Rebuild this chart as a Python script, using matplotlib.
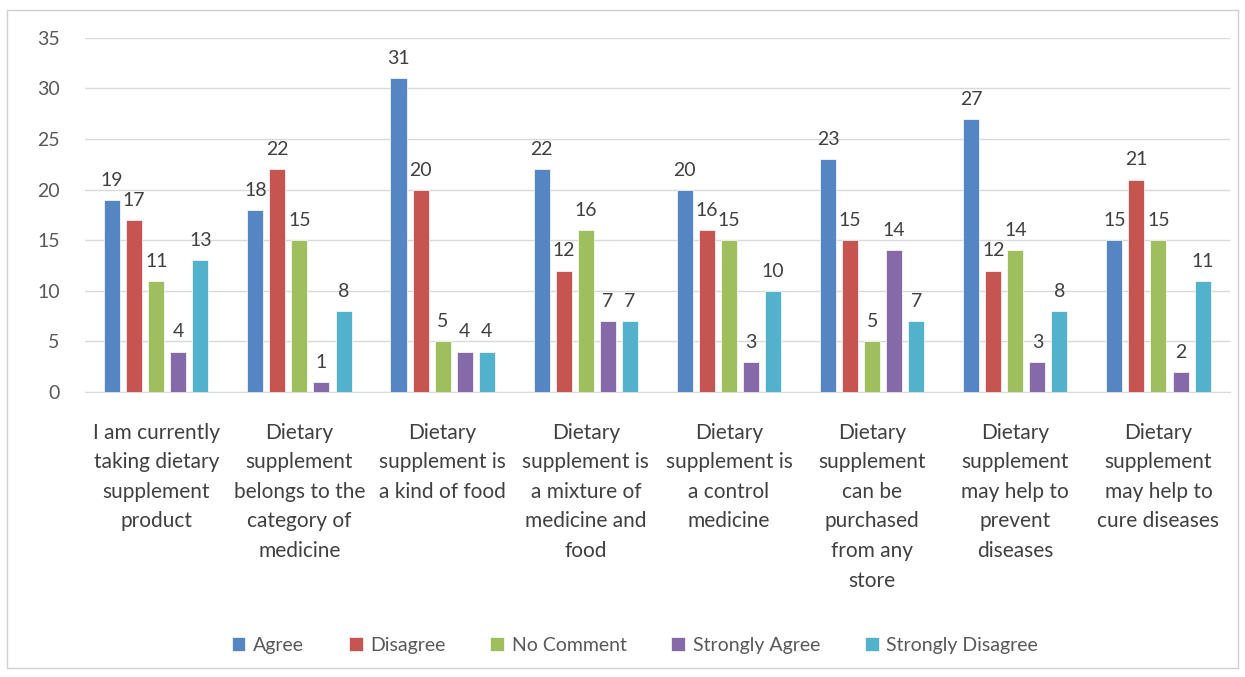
import matplotlib
matplotlib.use("Agg")
import matplotlib.pyplot as plt
import numpy as np
from matplotlib.patches import Rectangle

categories = [
    "I am currently\ntaking dietary\nsupplement\nproduct",
    "Dietary\nsupplement\nbelongs to the\ncategory of\nmedicine",
    "Dietary\nsupplement is\na kind of food",
    "Dietary\nsupplement is\na mixture of\nmedicine and\nfood",
    "Dietary\nsupplement is\na control\nmedicine",
    "Dietary\nsupplement\ncan be\npurchased\nfrom any\nstore",
    "Dietary\nsupplement\nmay help to\nprevent\ndiseases",
    "Dietary\nsupplement\nmay help to\ncure diseases",
]
series_names = ["Agree", "Disagree", "No Comment", "Strongly Agree", "Strongly Disagree"]
agree = [19, 18, 31, 22, 20, 23, 27, 15]
disagree = [17, 22, 20, 12, 16, 15, 12, 21]
no_comment = [11, 15, 5, 16, 15, 5, 14, 15]
strongly_agree = [4, 1, 4, 7, 3, 14, 3, 2]
strongly_disagree = [13, 8, 4, 7, 10, 7, 8, 11]
yticks = [0, 5, 10, 15, 20, 25, 30, 35]

series = [agree, disagree, no_comment, strongly_agree, strongly_disagree]
colors = ["#5585C2", "#C65451", "#9FBE5D", "#8669A8", "#52B1CB"]

plt.rcParams['font.family'] = ['Lato', 'DejaVu Sans']
txt = "#404040"

fig = plt.figure(figsize=(12.45, 6.77), dpi=100)
fig.patches.append(Rectangle((0.006, 0.013), 0.988, 0.972, transform=fig.transFigure,
                             fill=False, edgecolor="#D0D0D0", linewidth=1))
ax = fig.add_axes([0.068, 0.421, 0.92, 0.523])

x = np.arange(len(categories))
step = 0.154
width = 0.112
for i, (vals, name, c) in enumerate(zip(series, series_names, colors)):
    pos = x + (i - 2) * step
    ax.bar(pos, vals, width=width, color=c, label=name, zorder=3,
           edgecolor="white", linewidth=0.5)
    for p, v in zip(pos, vals):
        ax.annotate(str(v), (p, v), xytext=(0, 8), textcoords="offset points",
                    ha="center", va="bottom", fontsize=14, color=txt)

ax.set_xlim(-0.5, len(categories) - 0.5)
ax.set_ylim(0, 35)
ax.set_yticks(yticks)
ax.yaxis.grid(True, color="#D9D9D9", linewidth=1, zorder=0)
ax.set_axisbelow(True)
for s in ["top", "right", "left"]:
    ax.spines[s].set_visible(False)
ax.spines["bottom"].set_color("#D9D9D9")
ax.tick_params(axis="y", length=0, labelsize=14, labelcolor="#595959", pad=18)
ax.tick_params(axis="x", length=0, labelsize=15, labelcolor=txt, pad=22)
ax.set_xticks(x)
ax.set_xticklabels(categories, linespacing=1.6, va="top", ha="center")

fig.legend(loc="center", bbox_to_anchor=(0.51, 0.047), ncol=5, frameon=False,
           fontsize=14, handlelength=0.7, handleheight=0.7, columnspacing=2.3,
           handletextpad=0.4, labelcolor="#595959")

fig.savefig("out.png", dpi=100)
